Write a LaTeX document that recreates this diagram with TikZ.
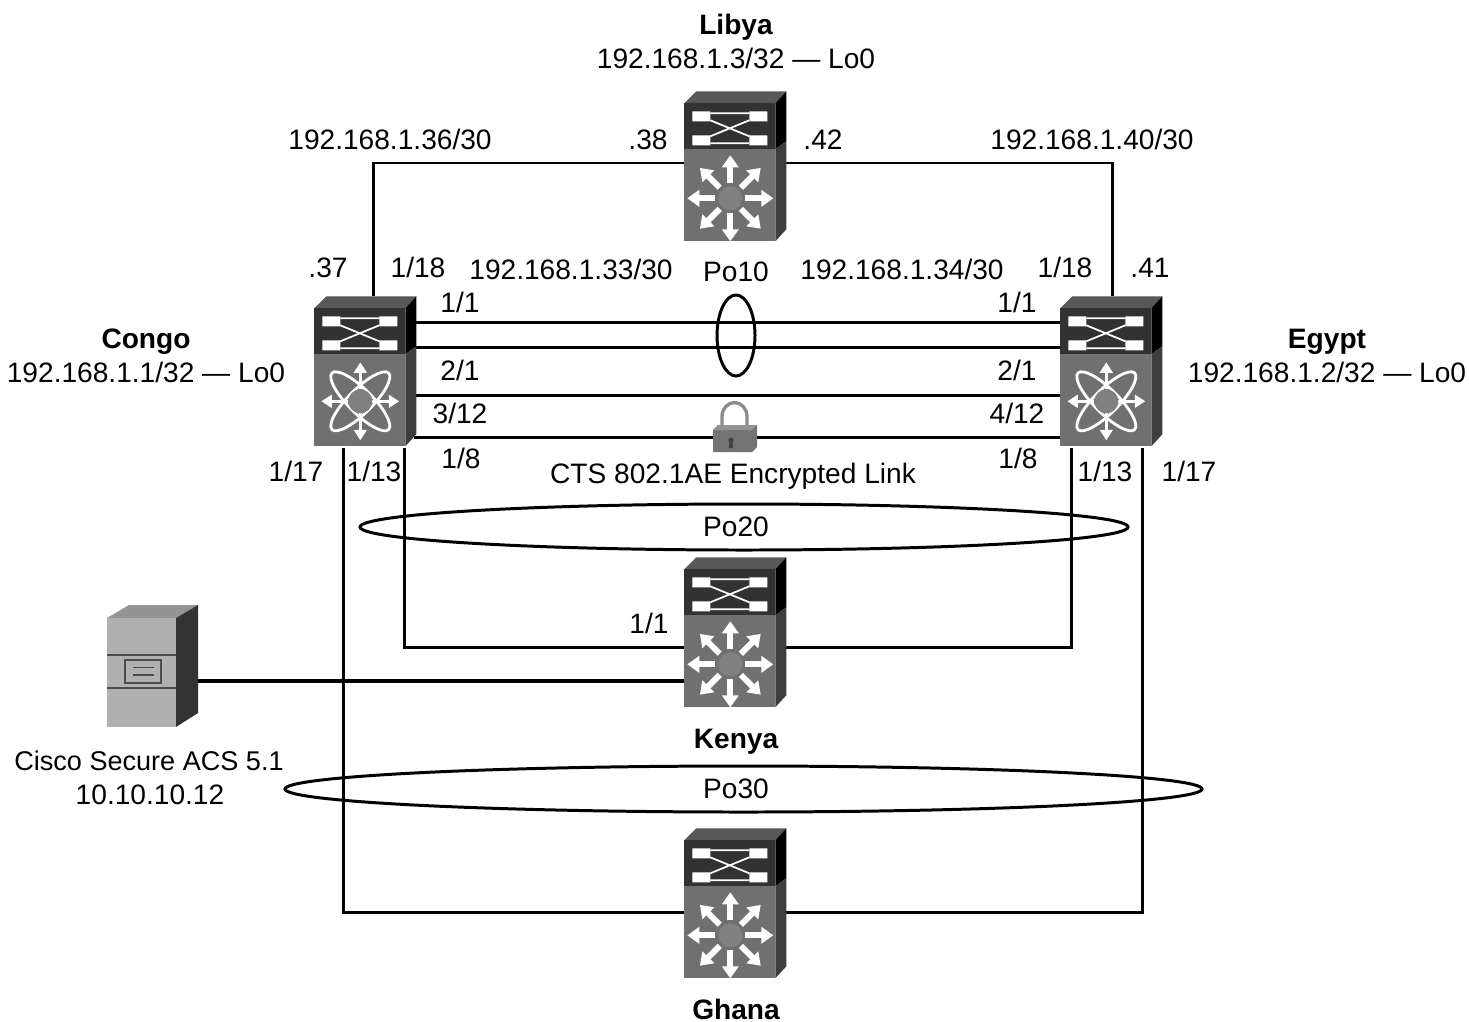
\documentclass[tikz,border=0pt]{standalone}
\usepackage{fontspec}
\setmainfont{Liberation Sans}
\usetikzlibrary{arrows.meta,positioning,shapes.geometric}
\definecolor{topface}{RGB}{88,88,88}
\definecolor{panel}{RGB}{50,50,50}
\definecolor{body}{RGB}{112,112,112}
\definecolor{sideface}{RGB}{62,62,62}
\definecolor{hubc}{RGB}{128,128,128}
\definecolor{srvfront}{RGB}{176,176,176}

\begin{document}
\begin{tikzpicture}[x=0.1mm, y=-0.1mm, font=\fontsize{8pt}{10pt}\selectfont,
  devbox/.style={rectangle, minimum width=10.2mm, minimum height=15mm, inner sep=0pt},
  srvbox/.style={rectangle, minimum width=9.1mm, minimum height=12.2mm, inner sep=0pt},
  lnk/.style={line width=0.85pt, black},
  bundle/.style={ellipse, draw=black, line width=0.85pt, inner sep=0pt},
  lbl/.style={inner sep=0pt},
  devname/.style={inner sep=0pt, font=\fontsize{8pt}{10pt}\selectfont\bfseries},
  wfat/.style={white, line width=1.7pt, -{Triangle[width=4.6pt,length=3.4pt]}},
  wthin/.style={white, line width=0.8pt, -{Triangle[width=3.6pt,length=3pt]}},
  chassis/.pic={
    \fill[topface] (0,12) -- (12,0) -- (102,0) -- (91,12) -- cycle;
    \fill[panel] (0,12) rectangle (91,58);
    \fill[black] (91,12) -- (102,0) -- (102,50) -- (91,58) -- cycle;
    \fill[body] (0,58) rectangle (91,150);
    \fill[sideface] (91,58) -- (102,50) -- (102,138) -- (91,150) -- cycle;
    \fill[white] (8,20) rectangle (26,30) (65,20) rectangle (83,30)
      (8,44) rectangle (26,54) (65,44) rectangle (83,54);
    \draw[white, line width=0.5pt] (26,22) -- (65,22) (26,52) -- (65,52)
      (26,29) -- (65,45) (26,45) -- (65,29);
  },
  hubcore/.pic={
    \foreach \a in {0,45,...,315}
      \draw[wfat] (\a:15) -- (\a:43);
    \fill[hubc] (0,0) circle [radius=12];
  },
  atomcore/.pic={
    \foreach \a in {0,90,180,270}
      \draw[wthin] (\a:12) -- (\a:39);
    \draw[white, line width=0.8pt, rotate=45] (0,0) ellipse [x radius=40, y radius=12];
    \draw[white, line width=0.8pt, rotate=-45] (0,0) ellipse [x radius=40, y radius=12];
    \fill[hubc] (0,0) circle [radius=12];
  }]
  \useasboundingbox (0,0) rectangle (1469,1021);

  % devices
  \node[devbox] (lib) at (736,167) {};
  \node[devbox] (con) at (366,372) {};
  \node[devbox] (egy) at (1112,372) {};
  \node[devbox] (ken) at (736,633) {};
  \node[devbox] (gha) at (736,904) {};
  \node[srvbox] (acs) at (153,665.5) {};

  % links
  \draw[lnk] ([shift={(0,-4)}]lib.west) -| ([shift={(7,0)}]con.north);
  \draw[lnk] ([shift={(-2,-4)}]lib.east) -| (egy.north);
  \draw[lnk] ([shift={(-4,-50)}]con.east) -- ([shift={(2,-50)}]egy.west);
  \draw[lnk] ([shift={(-4,-25)}]con.east) -- ([shift={(2,-25)}]egy.west);
  \draw[lnk] ([shift={(-4,23)}]con.east) -- ([shift={(2,23)}]egy.west);
  \draw[lnk] ([shift={(-4,65)}]con.east) -- ([shift={(2,65)}]egy.west);
  \draw[lnk] ([shift={(38,0)}]con.south) |- ([shift={(0,14)}]ken.west);
  \draw[lnk] ([shift={(-2,14)}]ken.east) -| ([shift={(-41,0)}]egy.south);
  \draw[lnk] ([shift={(-23,0)}]con.south) |- ([shift={(0,8)}]gha.west);
  \draw[lnk] ([shift={(-2,8)}]gha.east) -| ([shift={(30,0)}]egy.south);
  \draw[lnk, line width=1.05pt] ([shift={(-2,15.5)}]acs.east) -- ([shift={(0,48)}]ken.west);

  % switch drawings
  \pic at (lib.north west) {chassis};
  \pic at ([shift={(46,107)}]lib.north west) {hubcore};
  \pic at (ken.north west) {chassis};
  \pic at ([shift={(46,107)}]ken.north west) {hubcore};
  \pic at (gha.north west) {chassis};
  \pic at ([shift={(46,107)}]gha.north west) {hubcore};
  \pic at (con.north west) {chassis};
  \pic at ([shift={(46,105)}]con.north west) {atomcore};
  \pic at (egy.north west) {chassis};
  \pic at ([shift={(46,105)}]egy.north west) {atomcore};

  % server
  \fill[gray!85] (107,618) -- (129,605) -- (198,605) -- (176,618) -- cycle;
  \fill[srvfront] (107,618) rectangle (176,727);
  \fill[black!80] (176,618) -- (198,605) -- (198,713) -- (176,727) -- cycle;
  \draw[black!70, line width=0.6pt] (107,655) -- (176,655) (107,688) -- (176,688);
  \draw[black!70, line width=0.5pt] (125,660) rectangle (161,683)
    (133,667.5) -- (154,667.5) (133,675) -- (154,675);

  % bundles
  \node[bundle, minimum width=3.8mm, minimum height=8.1mm] (po10) at (736,335.5) {};
  \node[bundle, minimum width=76.8mm, minimum height=4.6mm] (po20) at (744,527) {};
  \node[bundle, minimum width=91.7mm, minimum height=4.6mm] (po30) at (743.5,789) {};

  % lock on the encrypted link
  \draw[gray!90, line width=0.95pt] (722,426) -- (722,416.5) arc [start angle=180, end angle=360, x radius=12.5, y radius=14] -- (747,426);
  \fill[black!55] (713,430) -- (718,425) -- (757,425) -- (757,447) -- (752,452) -- (713,452) -- cycle;
  \fill[gray!85] (713,430) -- (718,425) -- (757,425) -- (752,430) -- cycle;
  \fill[black!75] (731,440) circle [radius=2.6] (729.5,440) -- (732.5,440) -- (733,448) -- (729,448) -- cycle;

  % device names and addresses
  \node[devname] (tlib) at (736,27) {Libya};
  \node[lbl] (alib) at (736,58.5) {192.168.1.3/32 — Lo0};
  \node[devname] (tcon) at (146,342) {Congo};
  \node[lbl] (acon) at (146,372.5) {192.168.1.1/32 — Lo0};
  \node[devname] (tegy) at (1327,342) {Egypt};
  \node[lbl] (aegy) at (1327,372.5) {192.168.1.2/32 — Lo0};
  \node[devname] (tken) at (736,742) {Kenya};
  \node[devname] (tgha) at (736,1009) {Ghana};
  \node[lbl, font=\fontsize{7.7pt}{10pt}\selectfont] (tacs) at (149,760.5) {Cisco Secure ACS 5.1};
  \node[lbl] (aacs) at (150,795) {10.10.10.12};

  % subnets and host parts
  \node[lbl] (n36) at (390,139.5) {192.168.1.36/30};
  \node[lbl] (h38) at (648,140) {.38};
  \node[lbl] (h42) at (823,140) {.42};
  \node[lbl] (n40) at (1092,139.5) {192.168.1.40/30};
  \node[lbl] (h37) at (328,268) {.37};
  \node[lbl] (p18c) at (418,267.5) {1/18};
  \node[lbl] (n33) at (571,269.5) {192.168.1.33/30};
  \node[lbl] (t10) at (736,272) {Po10};
  \node[lbl] (n34) at (902,269.5) {192.168.1.34/30};
  \node[lbl] (p18e) at (1065,267.5) {1/18};
  \node[lbl] (h41) at (1150,268) {.41};

  % ports
  \node[lbl] (p11c) at (460,302.5) {1/1};
  \node[lbl] (p11e) at (1017,302.5) {1/1};
  \node[lbl] (p21c) at (460,370.5) {2/1};
  \node[lbl] (p21e) at (1017,370.5) {2/1};
  \node[lbl] (p312) at (460,413.5) {3/12};
  \node[lbl] (p412) at (1017,413.5) {4/12};
  \node[lbl] (p18l) at (461,458.5) {1/8};
  \node[lbl] (p18r) at (1018,458.5) {1/8};
  \node[lbl] (tcts) at (733,476) {CTS 802.1AE Encrypted Link};
  \node[lbl] (p17c) at (296,471.5) {1/17};
  \node[lbl] (p13c) at (374,471.5) {1/13};
  \node[lbl] (p13e) at (1105,471.5) {1/13};
  \node[lbl] (p17e) at (1189,471.5) {1/17};
  \node[lbl] (t20) at (736,527) {Po20};
  \node[lbl] (p11k) at (649,623.5) {1/1};
  \node[lbl] (t30) at (736,789) {Po30};
\end{tikzpicture}
\end{document}
